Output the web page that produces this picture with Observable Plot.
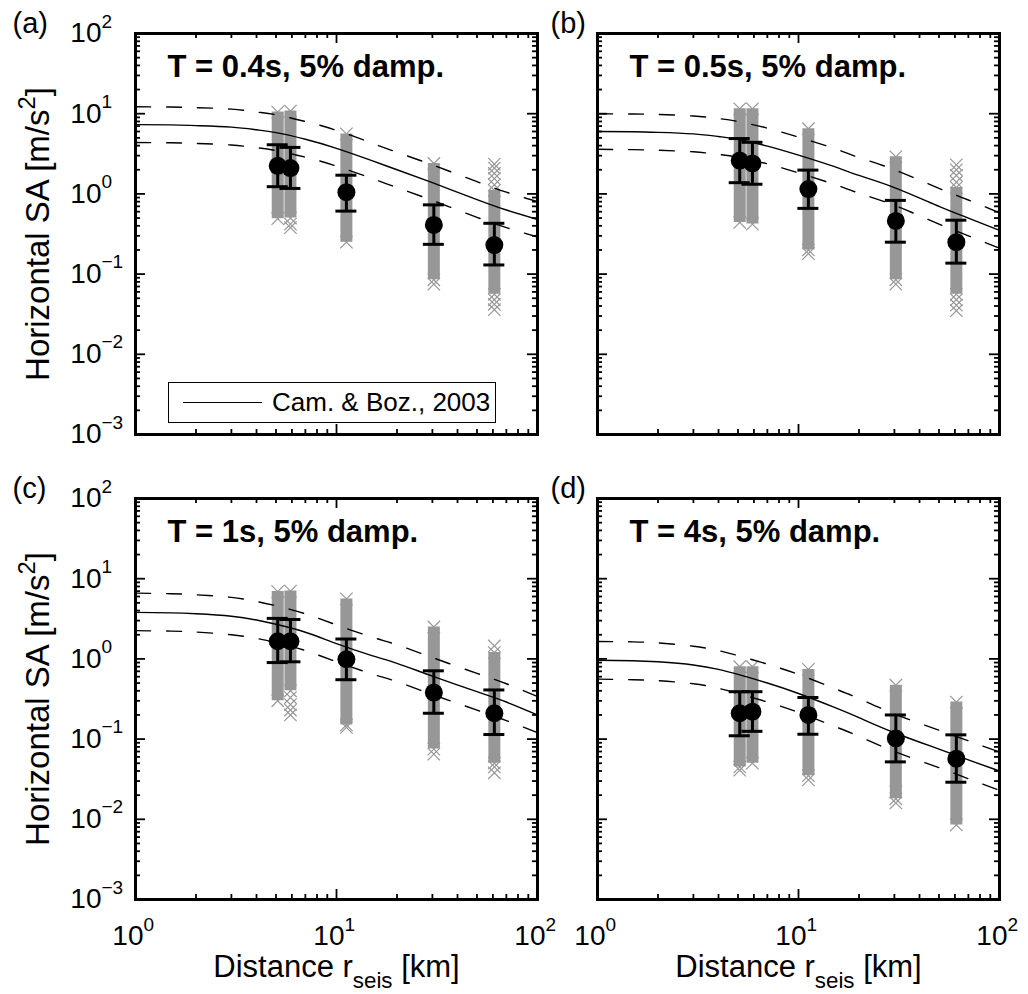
<!DOCTYPE html>
<html><head><meta charset="utf-8">
<script src="https://cdn.jsdelivr.net/npm/d3@7"></script>
<script src="https://cdn.jsdelivr.net/npm/@observablehq/plot@0.6"></script>
<style>
body{margin:0;background:#fff;}
#fig{position:relative;width:1028px;height:994px;overflow:hidden;font-family:"Liberation Sans",Arial,Helvetica,sans-serif;background:#fff;}
#fig svg{position:absolute;max-width:none;}
.legend{position:absolute;left:168px;top:382px;width:326px;height:39px;border:1.5px solid #000;background:#fff;}
.legend .ln{position:absolute;left:14px;top:19px;width:79px;border-top:1.4px solid #000;}
.legend .tx{position:absolute;left:103px;top:4px;font-size:26px;line-height:30px;color:#000;white-space:nowrap;}
</style></head><body><div id="fig"></div>
<script>
// ---------- data ----------
const panelLetters = ["(a)", "(b)", "(c)", "(d)"];
const titles = ["T = 0.4s, 5% damp.", "T = 0.5s, 5% damp.", "T = 1s, 5% damp.", "T = 4s, 5% damp."];
const yLabel = "Horizontal SA [m/s^{2}]";
const xLabel = "Distance r_{seis} [km]";
const legendText = "Cam. & Boz., 2003";

const xDomain = [1, 100];
const yDomain = [0.001, 100];
const xMajor = [1, 10, 100];
const xExp = ["0", "1", "2"];
const xMinor = [2, 3, 4, 5, 6, 7, 8, 9, 20, 30, 40, 50, 60, 70, 80, 90];
const yMajor = [0.001, 0.01, 0.1, 1, 10, 100];
const yExp = ["\u22123", "\u22122", "\u22121", "0", "1", "2"];
const yMinor = [0.002,0.003,0.004,0.005,0.006,0.007,0.008,0.009,
                0.02,0.03,0.04,0.05,0.06,0.07,0.08,0.09,
                0.2,0.3,0.4,0.5,0.6,0.7,0.8,0.9,
                2,3,4,5,6,7,8,9, 20,30,40,50,60,70,80,90];

// station distances (km)
const distances = [5.1, 5.9, 11.2, 30.5, 61];
// model curve distances
const curveDist = [1, 1.5, 2, 3, 4, 5, 7, 10, 15, 20, 30, 50, 70, 100];

// Campbell & Bozorgnia 2003 median and +/- 1 sigma
const medianA = [7.3, 7.25, 7.1, 6.8, 6.3, 5.8, 4.8, 3.7, 2.6, 2.0, 1.38, 0.85, 0.63, 0.48];
const upperA  = [12.2, 12.1, 11.9, 11.4, 10.5, 9.7, 8.0, 6.2, 4.3, 3.3, 2.3, 1.42, 1.05, 0.8];
const lowerA  = [4.37, 4.34, 4.25, 4.07, 3.77, 3.47, 2.87, 2.22, 1.56, 1.2, 0.83, 0.51, 0.38, 0.29];
const medianB = [6.0, 5.95, 5.85, 5.6, 5.2, 4.8, 3.95, 3.05, 2.2, 1.7, 1.2, 0.7, 0.5, 0.35];
const upperB  = [10.0, 9.9, 9.8, 9.35, 8.7, 8.0, 6.6, 5.1, 3.7, 2.84, 2.0, 1.17, 0.84, 0.58];
const lowerB  = [3.6, 3.56, 3.5, 3.35, 3.11, 2.87, 2.37, 1.83, 1.32, 1.02, 0.72, 0.42, 0.3, 0.21];
const medianC = [3.8, 3.75, 3.65, 3.4, 3.05, 2.7, 2.15, 1.55, 1.1, 0.88, 0.61, 0.39, 0.29, 0.2];
const upperC  = [6.6, 6.5, 6.3, 5.85, 5.2, 4.6, 3.65, 2.65, 1.87, 1.5, 1.04, 0.66, 0.49, 0.34];
const lowerC  = [2.25, 2.22, 2.16, 2.0, 1.8, 1.6, 1.27, 0.92, 0.65, 0.52, 0.36, 0.23, 0.17, 0.12];
const medianD = [0.96, 0.95, 0.92, 0.84, 0.74, 0.64, 0.5, 0.37, 0.25, 0.185, 0.12, 0.075, 0.055, 0.04];
const upperD  = [1.65, 1.63, 1.58, 1.44, 1.27, 1.1, 0.86, 0.64, 0.43, 0.32, 0.206, 0.129, 0.095, 0.069];
const lowerD  = [0.56, 0.55, 0.535, 0.49, 0.43, 0.37, 0.29, 0.215, 0.145, 0.108, 0.07, 0.044, 0.032, 0.023];

// simulated mean (dot) and +/- 1 std (bars)
const meanA = [2.24, 2.1, 1.05, 0.41, 0.23];
const barHiA = [4.1, 3.8, 1.71, 0.73, 0.43];
const barLoA = [1.23, 1.17, 0.61, 0.235, 0.13];
const meanB = [2.6, 2.4, 1.15, 0.46, 0.25];
const barHiB = [4.9, 4.4, 1.98, 0.83, 0.47];
const barLoB = [1.38, 1.32, 0.66, 0.25, 0.137];
const meanC = [1.66, 1.66, 0.99, 0.38, 0.21];
const barHiC = [3.2, 3.1, 1.77, 0.71, 0.41];
const barLoC = [0.9, 0.92, 0.55, 0.21, 0.114];
const meanD = [0.21, 0.22, 0.2, 0.102, 0.057];
const barHiD = [0.39, 0.39, 0.33, 0.2, 0.113];
const barLoD = [0.11, 0.125, 0.115, 0.052, 0.029];

// dense cloud of simulated values: lowest and highest of the packed crosses
const cloudLoA = [0.49, 0.5, 0.25, 0.085, 0.056];
const cloudHiA = [10.5, 10.8, 5.6, 2.4, 1.1];
const cloudLoB = [0.44, 0.42, 0.2, 0.085, 0.056];
const cloudHiB = [11.5, 11.5, 6.5, 2.9, 1.2];
const cloudLoC = [0.3, 0.4, 0.15, 0.075, 0.05];
const cloudHiC = [6.9, 7.0, 5.6, 2.5, 1.2];
const cloudLoD = [0.045, 0.05, 0.035, 0.018, 0.0085];
const cloudHiD = [0.8, 0.8, 0.74, 0.47, 0.29];
// isolated simulated values outside the packed part [distance, SA]
const sparseA = [[5.9, 0.42], [5.9, 0.38], [61, 1.3], [61, 1.55], [61, 1.8], [61, 2.1], [61, 2.35], [61, 0.048], [61, 0.042], [61, 0.036], [30.5, 0.075]];
const sparseB = [[61, 1.4], [61, 1.7], [61, 2.0], [61, 2.3], [61, 0.048], [61, 0.041], [61, 0.035], [30.5, 0.075], [11.2, 0.18]];
const sparseC = [[5.9, 0.33], [5.9, 0.27], [5.9, 0.23], [5.9, 0.2], [61, 1.45], [61, 0.045], [61, 0.038], [11.2, 0.14], [30.5, 0.065]];
const sparseD = [[30.5, 0.022], [30.5, 0.016], [11.2, 0.031], [5.1, 0.041]];

// ---------- drawing ----------
const GRAY = "#979797";
const FONT = "'Liberation Sans', Arial, Helvetica, sans-serif";
const INNER_W = 402, INNER_H = 401;
// multiplicative step equal to one pixel on each log axis (for fixed-pixel ticks and caps)
const xPix = Math.pow(xDomain[1] / xDomain[0], 1 / INNER_W);
const yPix = Math.pow(yDomain[1] / yDomain[0], 1 / INNER_H);

const panels = [
  {left: 0,   top: 0,   h: 470, mb: 36, letterDx: -123, med: medianA, up: upperA, lo: lowerA, mean: meanA, bh: barHiA, bl: barLoA, cl: cloudLoA, ch: cloudHiA, sp: sparseA, yAxis: true,  xAxis: false},
  {left: 462, top: 0,   h: 470, mb: 36, letterDx: -47,  med: medianB, up: upperB, lo: lowerB, mean: meanB, bh: barHiB, bl: barLoB, cl: cloudLoB, ch: cloudHiB, sp: sparseB, yAxis: false, xAxis: false},
  {left: 0,   top: 465, h: 529, mb: 95, letterDx: -123, med: medianC, up: upperC, lo: lowerC, mean: meanC, bh: barHiC, bl: barLoC, cl: cloudLoC, ch: cloudHiC, sp: sparseC, yAxis: true,  xAxis: true},
  {left: 462, top: 465, h: 529, mb: 95, letterDx: -47,  med: medianD, up: upperD, lo: lowerD, mean: meanD, bh: barHiD, bl: barLoD, cl: cloudLoD, ch: cloudHiD, sp: sparseD, yAxis: false, xAxis: true}
];

function richify(svg) {
  const ns = "http://www.w3.org/2000/svg";
  svg.querySelectorAll("text").forEach(t => {
    const s = t.textContent;
    if (!/[_^]\{/.test(s)) return;
    const fs = parseFloat(getComputedStyle(t).fontSize) || 28;
    while (t.firstChild) t.removeChild(t.firstChild);
    const re = /([_^])\{([^}]*)\}/g;
    let last = 0, m, shift = 0;
    const add = (str, dy, size) => {
      const ts = document.createElementNS(ns, "tspan");
      ts.textContent = str;
      if (dy) ts.setAttribute("dy", dy);
      if (size) ts.setAttribute("font-size", size);
      t.appendChild(ts);
    };
    while ((m = re.exec(s))) {
      if (m.index > last) { add(s.slice(last, m.index), -shift, null); shift = 0; }
      const d = m[1] === "^" ? -0.42 * fs : 0.33 * fs;
      add(m[2], d - shift, 0.72 * fs);
      shift = d;
      last = re.lastIndex;
    }
    if (last < s.length) add(s.slice(last), -shift, null);
  });
}

function frameTicks(len, xs, ys) {
  const kx = Math.pow(xPix, len), ky = Math.pow(yPix, len);
  const st = {stroke: "#000", strokeWidth: 1.8};
  return [
    Plot.ruleX(xs, {x: d => d, y1: yDomain[0], y2: yDomain[0] * ky, ...st}),
    Plot.ruleX(xs, {x: d => d, y1: yDomain[1], y2: yDomain[1] / ky, ...st}),
    Plot.ruleY(ys, {y: d => d, x1: xDomain[0], x2: xDomain[0] * kx, ...st}),
    Plot.ruleY(ys, {y: d => d, x1: xDomain[1], x2: xDomain[1] / kx, ...st})
  ];
}

const fig = document.getElementById("fig");

panels.forEach((p, k) => {
  const curve = curveDist.map((r, i) => ({r, med: p.med[i], up: p.up[i], lo: p.lo[i]}));
  const stats = distances.map((r, i) => ({r, mean: p.mean[i], hi: p.bh[i], lo: p.bl[i]}));
  const cloud = distances.map((r, i) => ({r, lo: p.cl[i], hi: p.ch[i]}));
  const crosses = [
    ...distances.map((r, i) => ({r, v: p.cl[i]})),
    ...distances.map((r, i) => ({r, v: p.ch[i]})),
    ...p.sp.map(([r, v]) => ({r, v}))
  ];
  const capK = Math.pow(xPix, 10.5); // half cap width of 10.5 px

  const marks = [
    // simulated clouds
    Plot.ruleX(cloud, {x: "r", y1: "lo", y2: "hi", stroke: GRAY, strokeWidth: 12}),
    Plot.dot(crosses, {x: "r", y: "v", symbol: "times", r: 5.7, stroke: GRAY, strokeWidth: 1.2}),
    // model
    Plot.line(curve, {x: "r", y: "up", stroke: "#000", strokeWidth: 1.4, strokeDasharray: "15,16", curve: "natural"}),
    Plot.line(curve, {x: "r", y: "lo", stroke: "#000", strokeWidth: 1.4, strokeDasharray: "15,16", curve: "natural"}),
    Plot.line(curve, {x: "r", y: "med", stroke: "#000", strokeWidth: 1.4, curve: "natural"}),
    // error bars + means
    Plot.ruleX(stats, {x: "r", y1: "lo", y2: "hi", stroke: "#000", strokeWidth: 3}),
    Plot.ruleY(stats, {y: "hi", x1: d => d.r / capK, x2: d => d.r * capK, stroke: "#000", strokeWidth: 3}),
    Plot.ruleY(stats, {y: "lo", x1: d => d.r / capK, x2: d => d.r * capK, stroke: "#000", strokeWidth: 3}),
    Plot.dot(stats, {x: "r", y: "mean", r: 9, fill: "#000"}),
    // inward ticks on all four sides
    ...frameTicks(10, xMajor, yMajor),
    ...frameTicks(5, xMinor, yMinor),
    Plot.frame({stroke: "#000", strokeWidth: 3}),
    // texts
    Plot.text([titles[k]], {text: d => d, frameAnchor: "top-left", textAnchor: "start", lineAnchor: "middle", dx: 32, dy: 34, fontSize: 31, fontWeight: "bold"}),
    Plot.text([panelLetters[k]], {text: d => d, frameAnchor: "top-left", textAnchor: "start", lineAnchor: "middle", dx: p.letterDx, dy: -10, fontSize: 29})
  ];
  if (p.yAxis) marks.push(
    Plot.text(yMajor, {y: d => d, text: () => "10", frameAnchor: "left", textAnchor: "end", lineAnchor: "middle", dx: -34, fontSize: 28}),
    Plot.text(yMajor, {y: d => d, text: (d, i) => yExp[i], frameAnchor: "left", textAnchor: "start", lineAnchor: "middle", dx: -34, dy: -12, fontSize: 19}),
    Plot.text([yLabel], {text: d => d, frameAnchor: "left", textAnchor: "middle", lineAnchor: "middle", rotate: -90, dx: -97, fontSize: 33})
  );
  if (p.xAxis) marks.push(
    Plot.text(xMajor, {x: d => d, text: () => "10", frameAnchor: "bottom", textAnchor: "end", lineAnchor: "middle", dx: 8, dy: 37, fontSize: 28}),
    Plot.text(xMajor, {x: d => d, text: (d, i) => xExp[i], frameAnchor: "bottom", textAnchor: "start", lineAnchor: "middle", dx: 8, dy: 25, fontSize: 19}),
    Plot.text([xLabel], {text: d => d, frameAnchor: "bottom", textAnchor: "middle", lineAnchor: "middle", dy: 68, fontSize: 31})
  );

  const svg = Plot.plot({
    width: 560,
    height: p.h,
    marginLeft: 135, marginRight: 23, marginTop: 33, marginBottom: p.mb,
    x: {type: "log", domain: xDomain, axis: null},
    y: {type: "log", domain: yDomain, axis: null},
    style: {fontFamily: FONT, fontSize: "28px", background: "transparent", overflow: "visible", color: "#000"},
    marks
  });
  svg.style.left = p.left + "px";
  svg.style.top = p.top + "px";
  fig.appendChild(svg);
  richify(svg);
});

// legend inside panel (a)
const lg = document.createElement("div");
lg.className = "legend";
lg.innerHTML = '<div class="ln"></div><div class="tx"></div>';
lg.querySelector(".tx").textContent = legendText;
fig.appendChild(lg);
</script></body></html>
